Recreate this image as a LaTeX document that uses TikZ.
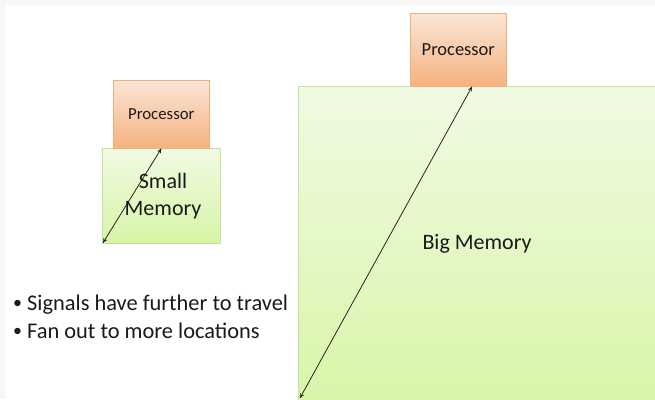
\documentclass[tikz,border=0pt]{standalone}
\usepackage{fontspec}
\setmainfont{Carlito}
\usetikzlibrary{arrows.meta,calc}
\definecolor{pageband}{HTML}{F7F7F7}
\definecolor{procTop}{HTML}{FBE5D6}
\definecolor{procBot}{HTML}{F4B27E}
\definecolor{procEdge}{HTML}{F2AE75}
\definecolor{memTop}{HTML}{F1FAE3}
\definecolor{memBot}{HTML}{D6F5A6}
\definecolor{memEdge}{HTML}{C3E2A0}
\definecolor{inkgray}{HTML}{1A1A1A}
\tikzset{
  proc/.style={draw=procEdge, line width=0.6pt, top color=procTop, bottom color=procBot,
    inner sep=0pt, anchor=north west, text=inkgray},
  mem/.style={draw=memEdge, line width=0.8pt, top color=memTop, bottom color=memBot,
    inner sep=0pt, anchor=north west},
  wire/.style={draw=inkgray, line width=0.75pt, {To[length=4.5pt,width=4pt]}-{To[length=4.5pt,width=4pt]}},
  caption/.style={inner sep=0pt, text=inkgray}
}
\newcommand{\smallbullet}{\raisebox{0.12em}{\scalebox{0.8}{\textbullet}}}
\begin{document}
\begin{tikzpicture}[x=1pt,y=-1pt]
  % page frame
  \fill[pageband] (0,0) rectangle (655,399);
  \fill[white] (6,5) rectangle (655,399);
  \useasboundingbox (0,0) rectangle (655,399);

  % small system
  \node[mem, minimum width=118pt, minimum height=95pt] (smem) at (102,148) {};
  \node[proc, minimum width=96pt, minimum height=68pt, font=\fontsize{16.8}{16.8}\selectfont] (sproc) at (113,80) {Processor};
  \node[caption, font=\fontsize{22}{27}\selectfont, align=center] (smemlbl) at (163,196) {Small\\Memory};
  \coordinate (sa) at ($(smem.south west)+(1,-1)$);
  \draw[wire] (sa) -- (sproc.south);

  % big system
  \node[mem, minimum width=370pt, minimum height=330pt] (bmem) at (298,86) {};
  \node[proc, minimum width=96pt, minimum height=73pt, font=\fontsize{18.5}{18.5}\selectfont] (bproc) at (410,13) {Processor};
  \node[caption, font=\fontsize{22}{22}\selectfont] (bmemlbl) at (477,244) {Big Memory};
  \coordinate (ba) at (300,398);
  \coordinate (bb) at ($(bproc.south west)+(62,0)$);
  \draw[wire] (ba) -- (bb);

  % notes
  \node[caption, anchor=west, font=\fontsize{22.4}{28}\selectfont, align=left] (notes) at (13,317)
    {\smallbullet\ Signals have further to travel\\\smallbullet\ Fan out to more locations};
\end{tikzpicture}
\end{document}
